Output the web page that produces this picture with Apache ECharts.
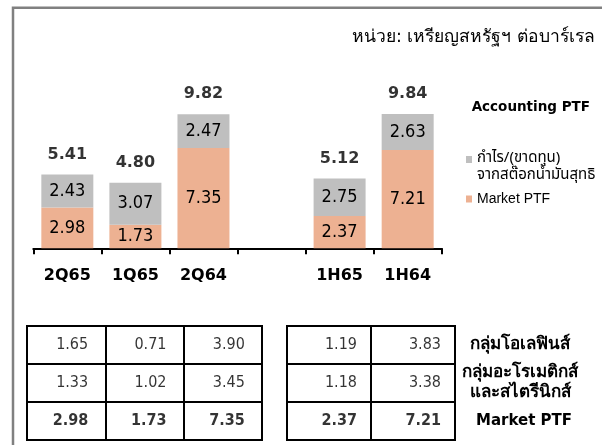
<!DOCTYPE html>
<html><head><meta charset="utf-8">
<script src="https://cdn.jsdelivr.net/npm/echarts@6/dist/echarts.min.js"></script>
<style>html,body{margin:0;padding:0;background:#fff}#c{width:602px;height:445px}</style>
</head><body><div id="c"></div>
<script>
// ---- data ----
const categories = ['2Q65', '1Q65', '2Q64', '', '1H65', '1H64'];
const marketPTF = [2.98, 1.73, 7.35, '-', 2.37, 7.21];
const stockGainLoss = [2.43, 3.07, 2.47, '-', 2.75, 2.63];
const accountingPTF = [5.41, 4.80, 9.82, '-', 5.12, 9.84];
const tableLeftCols = ['2Q65', '1Q65', '2Q64'];
const tableRightCols = ['1H65', '1H64'];
const rowNames = ['กลุ่มโอเลฟินส์', 'กลุ่มอะโรเมติกส์\nและสไตรีนิกส์', 'Market PTF'];
const olefins = [1.65, 0.71, 3.90, 1.19, 3.83];
const aromatics = [1.33, 1.02, 3.45, 1.18, 3.38];
const tableMarket = [2.98, 1.73, 7.35, 2.37, 7.21];
const seriesNames = ['Market PTF', 'กำไร/(ขาดทุน)\nจากสต๊อกน้ำมันสุทธิ'];
const unitText = 'หน่วย: เหรียญสหรัฐฯ ต่อบาร์เรล';
const accountingTitle = 'Accounting PTF';

// ---- styles ----
const numFont = '"DejaVu Sans Condensed", "Liberation Sans", sans-serif';
const boldFont = '"DejaVu Sans", sans-serif';
const thaiFont = '"DejaVu Sans", sans-serif';
const legendFont = 'Tahoma, "Noto Sans Thai", "Noto Sans", "DejaVu Sans", sans-serif';
const ORANGE = '#EDB192';
const GRAY = '#BFBFBF';

function tableData(colOffset, nCols) {
  const rows = [olefins, aromatics, tableMarket];
  const out = [];
  rows.forEach((arr, r) => {
    for (let c = 0; c < nCols; c++) out.push([c, r, arr[colOffset + c]]);
  });
  return out;
}
function tableLabel(offsetX) {
  return {
    show: true, position: 'inside', align: 'right', verticalAlign: 'middle', offset: [offsetX, 0],
    formatter: p => (p.value[1] === 2 ? '{b|' : '{n|') + p.value[2].toFixed(2) + '}',
    rich: {
      n: { color: '#000', fontSize: 16, fontFamily: numFont, align: 'right' },
      b: { color: '#000', fontSize: 16, fontWeight: 'bold', fontFamily: numFont, align: 'right' }
    }
  };
}

const chart = echarts.init(document.getElementById('c'), null, { renderer: 'canvas' });
const tableAxisCommon = {
  axisLine: { show: false }, axisTick: { show: false }, axisLabel: { show: false },
  splitLine: { show: true, interval: 0, lineStyle: { color: '#000', width: 2 } }
};
const gridBorder = { show: true, borderColor: '#000', borderWidth: 2, backgroundColor: 'transparent' };

chart.setOption({
  animation: false,
  backgroundColor: '#fff',
  title: [
    { text: unitText, right: 7, top: 28, padding: 0,
      textStyle: { fontSize: 17.5, fontWeight: 'normal', color: '#000', fontFamily: thaiFont } },
    { text: accountingTitle, right: 12, top: 100, padding: 0,
      textStyle: { fontSize: 13.5, fontWeight: 'bold', color: '#000', fontFamily: boldFont } }
  ],
  legend: [
    { data: [seriesNames[1]], left: 466, top: 135, padding: 0,
      icon: 'rect', itemWidth: 6, itemHeight: 7,
      formatter: name => {
        const parts = name.split('\n');
        return '{p| }\n{a|' + parts[0] + '}\n{a|' + parts[1] + '}';
      },
      textStyle: { color: '#000', fontFamily: legendFont,
        rich: { p: { fontSize: 10, lineHeight: 16, height: 16 },
                a: { fontSize: 15, lineHeight: 16.5, color: '#000', fontFamily: legendFont } } } },
    { data: [seriesNames[0]], left: 466, top: 191, padding: 0,
      icon: 'rect', itemWidth: 6, itemHeight: 7,
      textStyle: { fontSize: 14, lineHeight: 16, color: '#000', fontFamily: '"Liberation Sans", sans-serif' } }
  ],
  grid: [
    { left: 33.3, right: 160.3, top: 84.5, bottom: 196.7 },
    Object.assign({ left: 27, top: 326, width: 235, height: 114 }, gridBorder),
    Object.assign({ left: 287, top: 326, width: 168, height: 114 }, gridBorder)
  ],
  xAxis: [
    { type: 'category', data: categories, gridIndex: 0, offset: 2,
      axisLine: { show: true, lineStyle: { color: '#000', width: 2 } },
      axisTick: { show: true, length: 6, lineStyle: { color: '#000', width: 2 } },
      axisLabel: { show: true, interval: 0, margin: 18, color: '#000', fontSize: 16, fontWeight: 'bold', fontFamily: boldFont },
      splitLine: { show: false } },
    Object.assign({ type: 'category', data: tableLeftCols, gridIndex: 1 }, tableAxisCommon),
    Object.assign({ type: 'category', data: tableRightCols, gridIndex: 2 }, tableAxisCommon)
  ],
  yAxis: [
    { type: 'value', gridIndex: 0, min: 0, max: 12, show: false },
    Object.assign({ type: 'category', data: rowNames, gridIndex: 1, inverse: true }, tableAxisCommon),
    Object.assign({}, tableAxisCommon, { type: 'category', data: rowNames, gridIndex: 2, inverse: true, position: 'right',
      axisLabel: { show: true, margin: 65, align: 'center', color: '#000', fontSize: 17, fontWeight: 'bold', lineHeight: 20, fontFamily: thaiFont,
        formatter: v => /^[A-Za-z ]+$/.test(v) ? '{m|' + v + '}' : v,
        rich: { m: { fontSize: 15, fontWeight: 'bold', color: '#000', fontFamily: boldFont, padding: [0, 0, 0, 8] } } } })
  ],
  series: [
    { name: seriesNames[0], type: 'bar', stack: 'ptf', data: marketPTF, barWidth: 52,
      itemStyle: { color: ORANGE },
      label: { show: true, position: 'inside', color: '#000', fontSize: 18, fontFamily: numFont, formatter: p => p.value.toFixed(2) } },
    { name: seriesNames[1], type: 'bar', stack: 'ptf', data: stockGainLoss, barWidth: 52,
      itemStyle: { color: GRAY },
      label: { show: true, position: 'inside', color: '#000', fontSize: 18, fontFamily: numFont, formatter: p => p.value.toFixed(2) } },
    { name: 'total', type: 'scatter', data: accountingPTF, symbolSize: 0, silent: true,
      label: { show: true, position: 'top', distance: 12, color: '#000', fontSize: 16, fontWeight: 'bold', fontFamily: boldFont,
        formatter: p => p.value.toFixed(2) } },
    { type: 'scatter', xAxisIndex: 1, yAxisIndex: 1, data: tableData(0, 3), symbolSize: 0, silent: true,
      label: tableLabel(22) },
    { type: 'scatter', xAxisIndex: 2, yAxisIndex: 2, data: tableData(3, 2), symbolSize: 0, silent: true,
      label: tableLabel(28) }
  ],
  graphic: [
    { type: 'polyline', silent: true, shape: { points: [[13, 445], [13, 7.7], [602, 7.7]] },
      style: { stroke: '#808080', lineWidth: 2.5, fill: null } }
  ]
});
</script>
</body></html>
